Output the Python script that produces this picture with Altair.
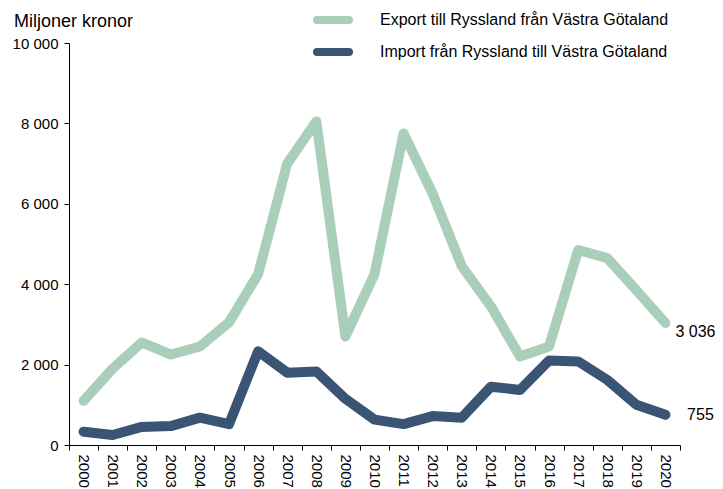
import altair as alt
import pandas as pd

years = [str(y) for y in range(2000, 2021)]
export_vals = [1100, 1900, 2550, 2250, 2450, 3050, 4250, 7000, 8050, 2700, 4250,
               7750, 6250, 4450, 3450, 2200, 2450, 4850, 4650, 3850, 3036]
import_vals = [330, 250, 450, 470, 680, 520, 2330, 1800, 1830, 1150, 630,
               520, 720, 680, 1450, 1370, 2100, 2080, 1620, 1000, 755]
series = ["Export till Ryssland från Västra Götaland",
          "Import från Ryssland till Västra Götaland"]
colors = ["#A9CFBB", "#3A5574"]
end_labels = ["3 036", "755"]

rows = []
for s, vals in zip(series, [export_vals, import_vals]):
    for y, v in zip(years, vals):
        rows.append({"year": y, "value": v, "series": s})
df = pd.DataFrame(rows)

end_df = pd.DataFrame({"year": [years[-1]] * 2,
                       "value": [export_vals[-1], import_vals[-1]],
                       "label": end_labels})
leg_df = pd.DataFrame({"series": series})

FONT = "Liberation Sans"
W, H = 611, 402

x = alt.X("year:O", title=None,
          scale=alt.Scale(type="band", paddingInner=0, paddingOuter=0),
          axis=alt.Axis(labelAngle=90, labelAlign="left", labelBaseline="middle",
                        labelFontSize=15, labelColor="#000", labelFont=FONT,
                        tickBand="extent", tickColor="#000", domainColor="#000",
                        tickSize=5, labelPadding=4))
y = alt.Y("value:Q", title=None,
          scale=alt.Scale(domain=[0, 10000]),
          axis=alt.Axis(values=[0, 2000, 4000, 6000, 8000, 10000],
                        labelExpr="replace(format(datum.value, ',d'), ',', ' ')",
                        labelFontSize=15, labelColor="#000", labelFont=FONT,
                        tickColor="#000", domainColor="#000", tickSize=5,
                        labelPadding=6, grid=False))

color_scale = alt.Scale(domain=series, range=colors)
color = alt.Color("series:N", scale=color_scale, legend=None)

lines = alt.Chart(df).mark_line(strokeWidth=10, strokeCap="round", strokeJoin="round").encode(
    x=x, y=y, color=color)

end_layers = []
for lab, ddx, ddy in zip(end_labels, [30, 35], [9, 0]):
    end_layers.append(
        alt.Chart(end_df).transform_filter(alt.datum.label == lab).mark_text(
            align="center", baseline="middle", dx=ddx, dy=ddy,
            fontSize=16, font=FONT, color="#000").encode(
            x=alt.X("year:O"), y=alt.Y("value:Q"), text="label:N"))

legend_layers = []
for s, ypix in zip(series, [-23, 9]):
    base = alt.Chart(leg_df).transform_filter(alt.datum.series == s)
    legend_layers.append(base.mark_rule(strokeWidth=8, strokeCap="round").encode(
        x=alt.value(248), x2=alt.value(280), y=alt.value(ypix),
        color=alt.Color("series:N", scale=color_scale, legend=None)))
    legend_layers.append(base.mark_text(align="left", baseline="middle", fontSize=16,
                                        font=FONT, color="#000").encode(
        x=alt.value(311), y=alt.value(ypix), text="series:N"))

title = alt.Chart(pd.DataFrame({"t": ["Miljoner kronor"]})).mark_text(
    align="left", baseline="alphabetic", fontSize=18, font=FONT, color="#000").encode(
    x=alt.value(-55), y=alt.value(-16), text="t:N")

chart = alt.layer(lines, *end_layers, *legend_layers, title).properties(
    width=W, height=H,
    autosize=alt.AutoSizeParams(type="none"),
    padding={"left": 61, "top": 35, "right": 35, "bottom": 46}
).configure_view(stroke=None)

chart.save("out.html", embed_options={"renderer": "svg", "actions": False})
